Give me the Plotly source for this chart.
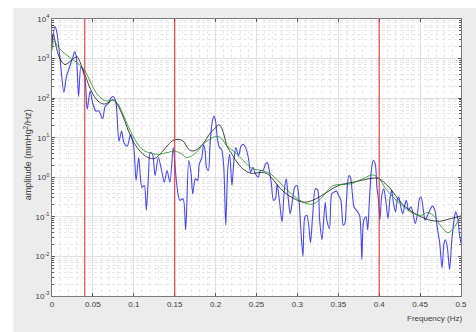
import numpy as np
import plotly.graph_objects as go

# ---------------- data ----------------
# frequencies in Hz, amplitudes given as log10(amplitude)
blue_freq = [0.0, 0.0036, 0.0056, 0.0096, 0.0145, 0.0177, 0.0217, 0.0257, 0.0277, 0.0297,
             0.0325, 0.0353, 0.0378, 0.0406, 0.043, 0.0466, 0.0498, 0.0538, 0.057, 0.0618,
             0.065, 0.069, 0.0719, 0.0747, 0.0779, 0.0819, 0.0851, 0.0879, 0.092, 0.096,
             0.1, 0.1028, 0.106, 0.11, 0.1128, 0.1153, 0.118, 0.12, 0.1229, 0.126,
             0.13, 0.134, 0.1373, 0.1406, 0.1442, 0.1482, 0.1522, 0.1562, 0.1602, 0.1634,
             0.1672, 0.170, 0.172, 0.1752, 0.178, 0.18, 0.1832, 0.1852, 0.1872, 0.1888,
             0.1912, 0.1932, 0.196, 0.198, 0.2, 0.202, 0.2048, 0.2072, 0.21, 0.2124,
             0.2148, 0.2172, 0.22, 0.2224, 0.2248, 0.228, 0.2312, 0.234, 0.2368, 0.24,
             0.2428, 0.2456, 0.2488, 0.252, 0.2548, 0.258, 0.2608, 0.2632, 0.2656, 0.268,
             0.2708, 0.2732, 0.2752, 0.278, 0.2812, 0.284, 0.2864, 0.2888, 0.2912, 0.294,
             0.2968, 0.2996, 0.302, 0.304, 0.3068, 0.3092, 0.3116, 0.314, 0.316, 0.3188,
             0.322, 0.3248, 0.3272, 0.330, 0.334, 0.336, 0.3392, 0.342, 0.3448, 0.348,
             0.3504, 0.3532, 0.356, 0.358, 0.36, 0.3628, 0.3648, 0.3672, 0.3692, 0.372,
             0.376, 0.3788, 0.3812, 0.384, 0.386, 0.388, 0.3904, 0.3928, 0.3952, 0.3972,
             0.3992, 0.4008, 0.4032, 0.4056, 0.408, 0.4108, 0.4132, 0.4152, 0.4176, 0.42,
             0.4224, 0.424, 0.4264, 0.4288, 0.4312, 0.4332, 0.436, 0.4388, 0.4412, 0.444,
             0.4468, 0.4492, 0.4512, 0.454, 0.456, 0.4592, 0.462, 0.4648, 0.468, 0.4708,
             0.474, 0.4768, 0.4792, 0.4808, 0.4832, 0.486, 0.4888, 0.492, 0.4936, 0.496,
             0.498, 0.5]
blue_log10 = [3.34, 3.81, 3.7, 3.05, 2.15, 2.55, 2.8, 3.05, 3.17, 3.05,
              2.04, 2.8, 2.7, 2.45, 1.72, 2.18, 1.87, 1.67, 1.68, 1.48,
              1.79, 1.87, 2.0, 2.04, 1.92, 0.92, 1.17, 0.875, 0.79, 1.08,
              0.75, -0.08, 0.5, -0.25, -0.21, -0.83, 0.08, 0.625, 0.58, 0.04,
              0.5, 0.17, -0.125, 0.17, -0.125, 0.75, -0.125, -0.58, -0.54, -1.33,
              0.42, 0.1, -0.42, -0.04, -0.08, 0.33, 0.5, 0.83, 0.67, 0.25,
              0.17, 0.83, 1.42, 1.54, 1.42, 1.0, 0.75, 0.71, 0.25, -1.21,
              0.17, 0.58, -0.21, 0.42, 0.75, 0.54, 0.79, 0.83, 0.75, 0.5,
              0.125, 0.25, 0.083, 0.0, 0.17, 0.17, 0.33, 0.375, 0.17, -0.125,
              -0.58, -0.54, -0.17, -0.58, -1.125, -0.33, -0.04, -0.54, -0.92, -0.58,
              -0.25, -0.21, -0.58, -1.25, -2.0, -1.0, -0.96, -1.25, -1.65, -0.92,
              -0.29, -0.33, -1.08, -1.58, -0.63, -1.08, -1.29, -0.42, -0.375, -0.35,
              -0.46, -0.58, -1.21, -1.17, -0.58, 0.04, 0.0, -0.42, -0.75, -0.83,
              -0.96, -2.08, -1.08, -1.0, -1.33, -0.58, 0.17, 0.43, 0.33, -0.25,
              -0.58, -1.08, -0.46, -0.29, -0.58, -1.04, -0.54, -0.33, -0.67, -0.875,
              -0.54, -0.5, -0.75, -0.92, -0.71, -0.58, -0.83, -0.75, -0.9, -1.17,
              -0.92, -0.54, -0.5, -0.83, -1.08, -0.96, -0.83, -0.73, -0.83, -1.25,
              -1.67, -2.29, -1.67, -1.58, -1.75, -2.33, -1.58, -1.0, -0.875, -1.04,
              -1.42, -1.67]

black_freq = [0.0, 0.0016, 0.0056, 0.0096, 0.0157, 0.0217, 0.0277, 0.031, 0.0357, 0.0398,
              0.0458, 0.0518, 0.0578, 0.0639, 0.0699, 0.0747, 0.08, 0.086, 0.092, 0.098,
              0.104, 0.112, 0.12, 0.126, 0.134, 0.142, 0.148, 0.154, 0.16, 0.168,
              0.174, 0.184, 0.194, 0.2, 0.204, 0.208, 0.214, 0.22, 0.228, 0.236,
              0.244, 0.254, 0.262, 0.268, 0.276, 0.284, 0.296, 0.308, 0.32, 0.333,
              0.35, 0.368, 0.394, 0.4, 0.412, 0.428, 0.444, 0.46, 0.474, 0.488, 0.5]
black_log10 = [3.46, 3.62, 3.25, 3.0, 2.85, 2.92, 3.02, 3.04, 2.83, 2.62,
               2.29, 2.04, 1.9, 1.85, 1.9, 1.96, 1.83, 1.58, 1.25, 0.96,
               0.75, 0.57, 0.48, 0.48, 0.63, 0.82, 0.93, 0.96, 0.92, 0.69,
               0.67, 0.83, 1.13, 1.25, 1.33, 1.22, 0.79, 0.58, 0.33, 0.17,
               0.1, 0.12, 0.1, 0.0, -0.21, -0.38, -0.54, -0.63, -0.57, -0.42,
               -0.21, -0.125, -0.02, -0.04, -0.25, -0.67, -0.92, -1.07, -1.11, -1.04, -0.98]

green_freq = [0.0, 0.0024, 0.0076, 0.0157, 0.0237, 0.0317, 0.0398, 0.0458, 0.0518, 0.0578,
              0.0659, 0.0739, 0.08, 0.086, 0.094, 0.102, 0.11, 0.118, 0.13, 0.142,
              0.15, 0.158, 0.165, 0.176, 0.186, 0.196, 0.2, 0.206, 0.214, 0.224,
              0.234, 0.244, 0.256, 0.266, 0.276, 0.288, 0.3, 0.312, 0.32, 0.328,
              0.344, 0.364, 0.38, 0.392, 0.4, 0.408, 0.416, 0.428, 0.44, 0.452,
              0.458, 0.466, 0.476, 0.484, 0.492, 0.5]
green_log10 = [3.2, 3.45, 3.29, 3.125, 3.0, 2.875, 2.71, 2.46, 2.21, 2.04,
               1.93, 1.95, 1.875, 1.625, 1.25, 0.93, 0.71, 0.625, 0.58, 0.63,
               0.66, 0.6, 0.5, 0.62, 0.86, 1.0, 1.03, 1.0, 0.79, 0.625,
               0.42, 0.23, 0.17, 0.1, -0.08, -0.33, -0.54, -0.67, -0.67, -0.55,
               -0.21, -0.17, -0.04, 0.06, -0.04, -0.29, -0.48, -0.71, -0.9, -0.96,
               -0.89, -0.96, -1.25, -1.4, -1.25, -0.96]

band_edges_hz = [0.04, 0.15, 0.4]

x_tick_vals = [0, 0.05, 0.1, 0.15, 0.2, 0.25, 0.3, 0.35, 0.4, 0.45, 0.5]
x_tick_text = ["0", "0.05", "0.1", "0.15", "0.2", "0.25", "0.3", "0.35", "0.4", "0.45", "0.5"]
y_tick_vals = [1e-3, 1e-2, 1e-1, 1e0, 1e1, 1e2, 1e3, 1e4]
y_tick_text = ["10<sup>-3</sup>", "10<sup>-2</sup>", "10<sup>-1</sup>", "10<sup>0</sup>",
               "10<sup>1</sup>", "10<sup>2</sup>", "10<sup>3</sup>", "10<sup>4</sup>"]

# ---------------- figure ----------------
FONT = "Liberation Sans, Arial, sans-serif"
TXT = "#404040"

fig = go.Figure()

fig.add_trace(go.Scatter(x=blue_freq, y=np.power(10.0, blue_log10), mode="lines",
                         line=dict(color="rgba(40,40,255,0.85)", width=1.1, shape="spline", smoothing=0.8),
                         hoverinfo="skip", showlegend=False))
fig.add_trace(go.Scatter(x=black_freq, y=np.power(10.0, black_log10), mode="lines",
                         line=dict(color="rgba(20,20,20,0.8)", width=1.0, shape="spline", smoothing=1.0),
                         hoverinfo="skip", showlegend=False))
fig.add_trace(go.Scatter(x=green_freq, y=np.power(10.0, green_log10), mode="lines",
                         line=dict(color="rgba(40,150,40,0.85)", width=1.0, shape="spline", smoothing=1.0),
                         hoverinfo="skip", showlegend=False))

for f in band_edges_hz:
    fig.add_shape(type="line", xref="x", yref="paper", x0=f, x1=f, y0=0, y1=1,
                  line=dict(color="rgba(255,30,30,0.75)", width=1.3), layer="above")

# figure window strips (white at top/left)
fig.add_shape(type="rect", xref="paper", yref="paper", x0=-0.3, x1=1.2, y0=1.0397, y1=1.2,
              fillcolor="white", line=dict(width=0), layer="below")
fig.add_shape(type="rect", xref="paper", yref="paper", x0=-0.3, x1=-0.094, y0=-0.3, y1=1.2,
              fillcolor="white", line=dict(width=0), layer="below")

axis_common = dict(showline=True, linecolor="#7a7a7a", linewidth=1, mirror="allticks",
                   ticks="inside", tickcolor="#5a5a5a", ticklen=3, tickwidth=1,
                   showgrid=True, gridcolor="#e0e0e0", gridwidth=1, zeroline=False,
                   tickfont=dict(family=FONT, size=8, color=TXT))

fig.update_xaxes(range=[0, 0.5], tickvals=x_tick_vals, ticktext=x_tick_text,
                 minor=dict(dtick=0.01, tick0=0, showgrid=True, gridcolor="#e9e9e9",
                            griddash="dot", gridwidth=1, ticks=""),
                 **axis_common)
fig.update_yaxes(type="log", range=[-3, 4], tickvals=y_tick_vals, ticktext=y_tick_text,
                 minor=dict(dtick="D1", showgrid=True, gridcolor="#e6e6e6", griddash="dot",
                            gridwidth=1, ticks="inside", ticklen=2, tickcolor="#5a5a5a"),
                 **axis_common)

fig.add_annotation(text="Frequency (Hz)", xref="paper", yref="paper", x=0.935, y=-0.083,
                   xanchor="center", yanchor="middle", showarrow=False,
                   font=dict(family=FONT, size=8, color=TXT))
fig.add_annotation(text="amplitude (mmHg<sup>2</sup>/Hz)", xref="paper", yref="paper",
                   x=-0.06, y=0.51, textangle=-90, xanchor="center", yanchor="middle",
                   showarrow=False, font=dict(family=FONT, size=9, color=TXT))

fig.update_layout(width=476, height=332, margin=dict(l=52, r=9, t=19, b=36),
                  paper_bgcolor="#ececec", plot_bgcolor="white", showlegend=False)

fig.write_html("out.html")
